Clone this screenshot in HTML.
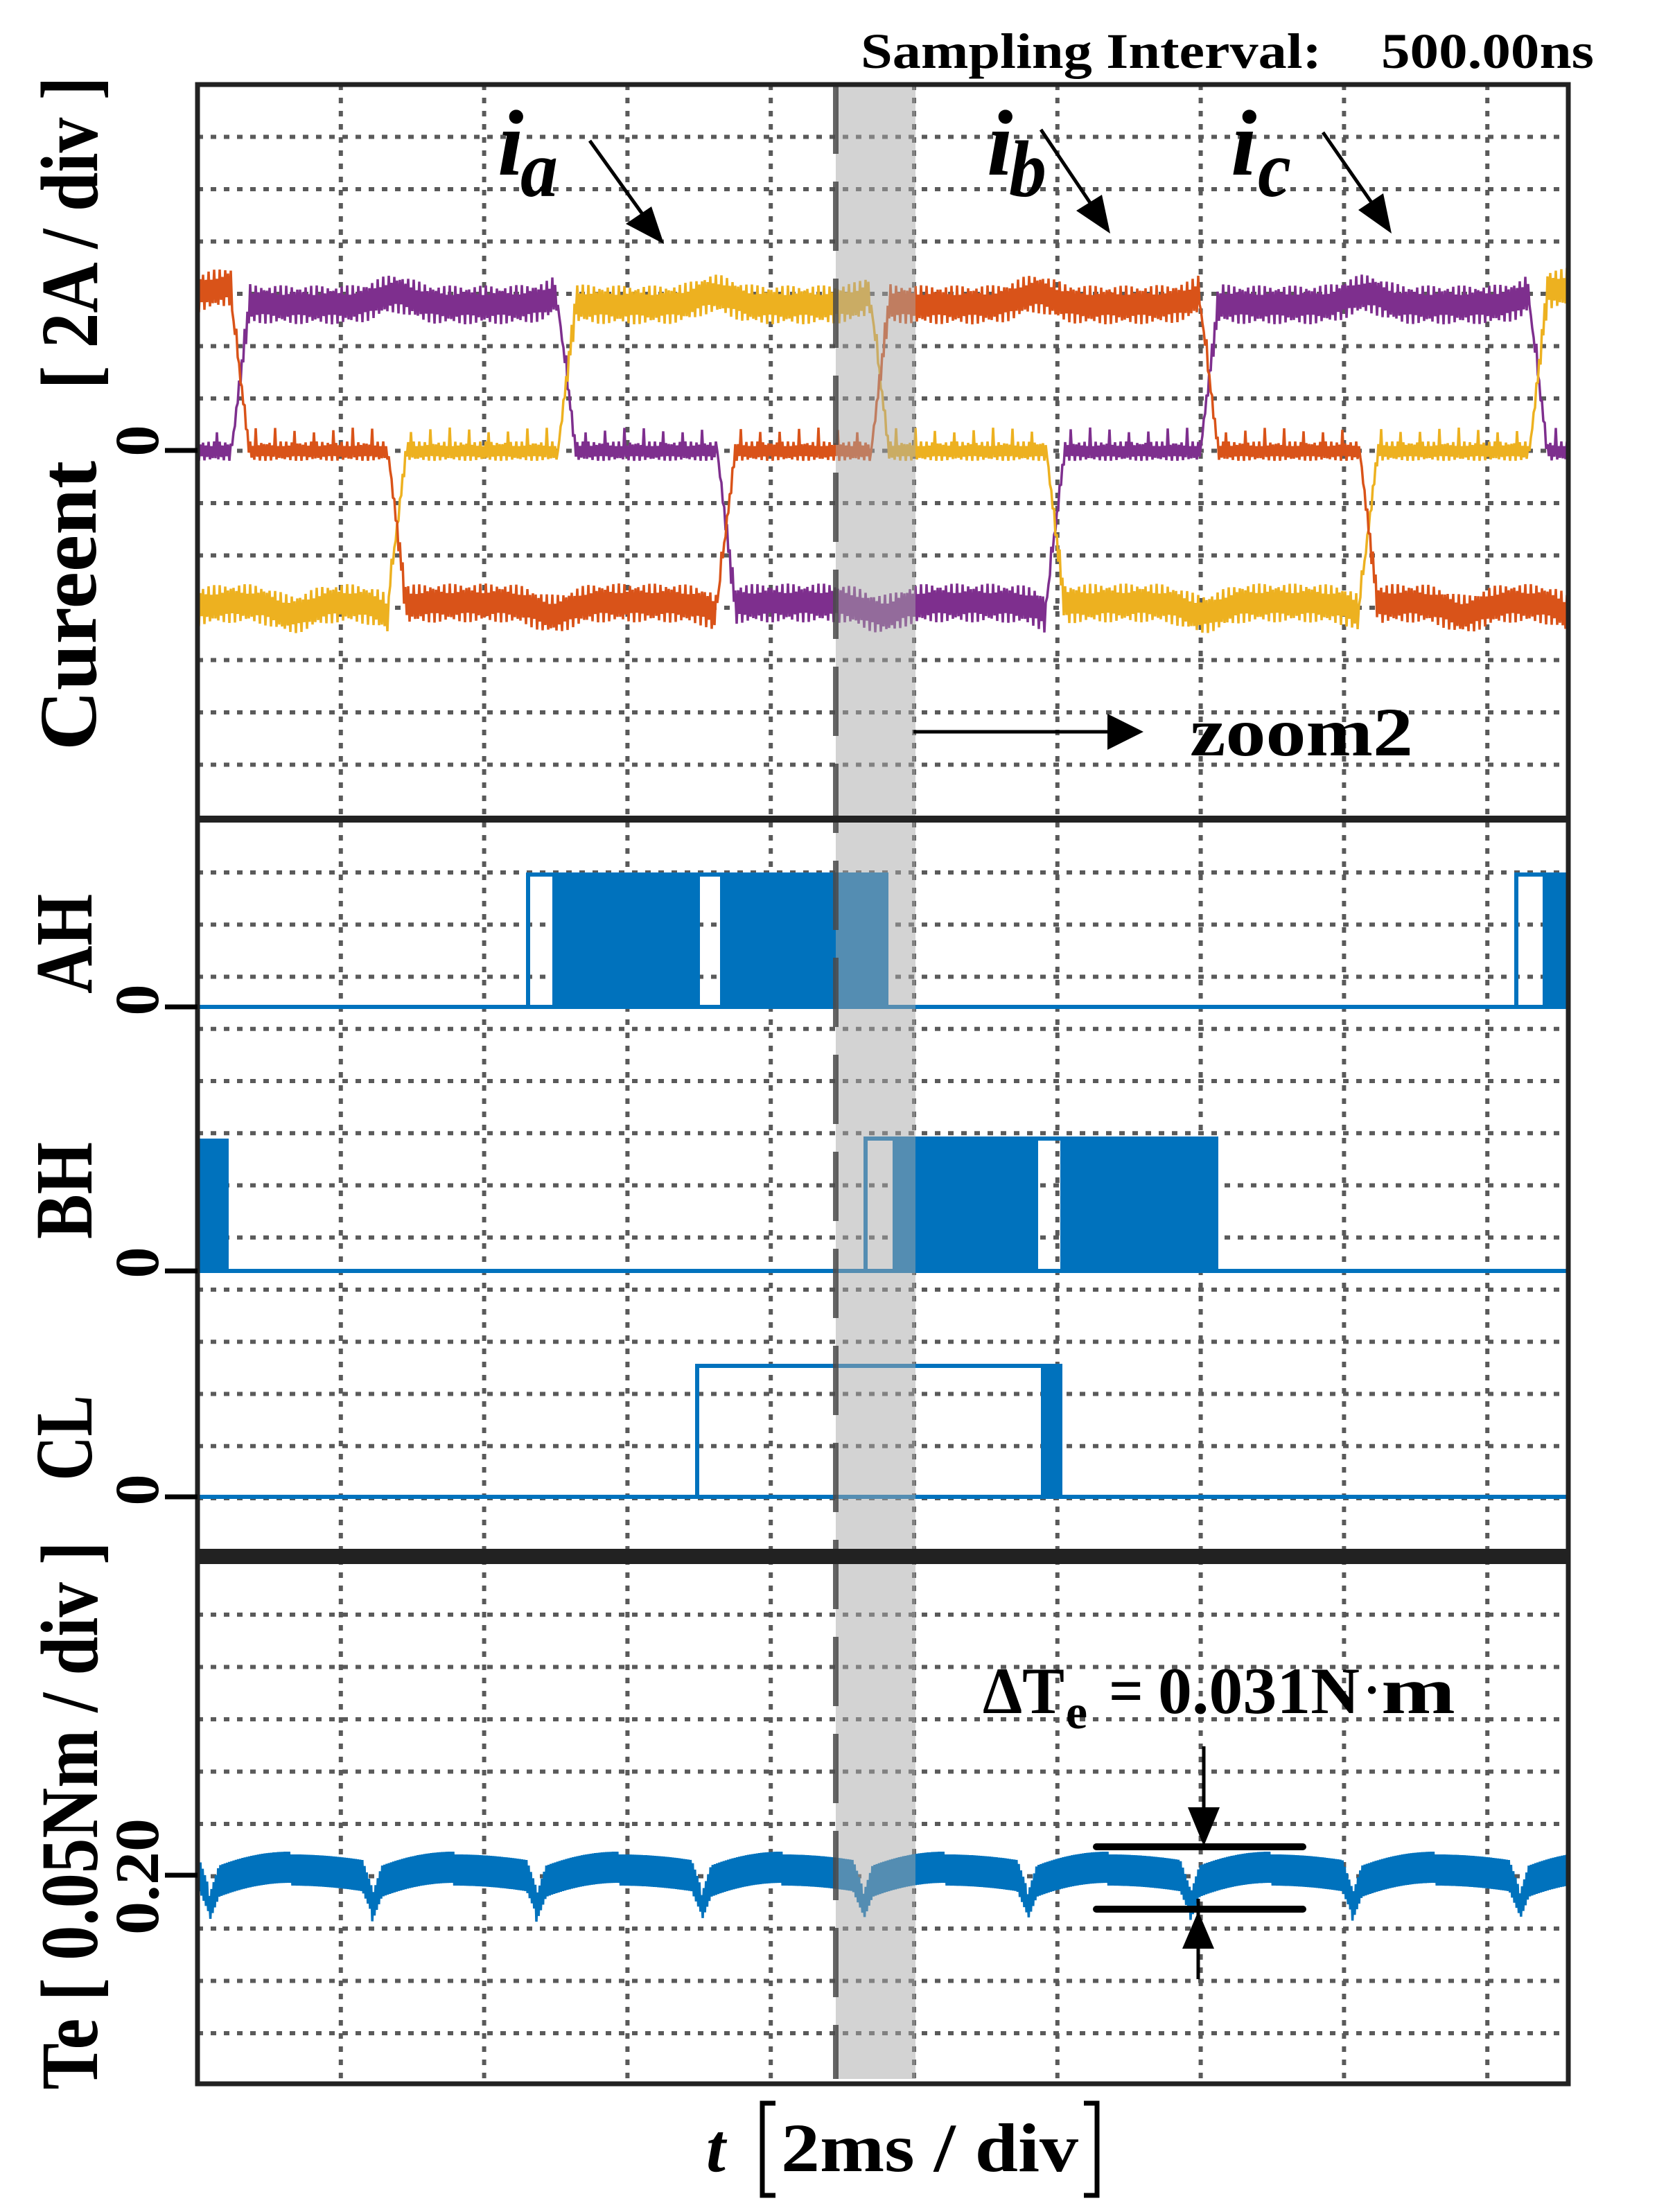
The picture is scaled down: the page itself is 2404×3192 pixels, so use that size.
<!DOCTYPE html>
<html><head><meta charset="utf-8"><style>
html,body{margin:0;padding:0;background:#fff;}
svg{display:block;}
text{font-family:"Liberation Serif",serif;font-weight:bold;fill:#000;}
</style></head><body>
<svg id="s" width="2404" height="3192" viewBox="0 0 2404 3192" xmlns="http://www.w3.org/2000/svg">
<rect width="2404" height="3192" fill="#fff"/>
<g id="grid" stroke="#5a5a5a" stroke-width="6" stroke-dasharray="8 11"></g>
<g id="sig"></g>
<g fill="#0072bd" stroke="#0072bd" stroke-width="6">
  <line x1="285" y1="1453" x2="2263" y2="1453"/>
  <polyline fill="none" points="762,1453 762,1262 1282,1262"/>
  <line x1="1007" y1="1262" x2="1007" y2="1453"/>
  <line x1="1042" y1="1262" x2="1042" y2="1453"/>
  <rect x="797" y="1262" width="210" height="191" stroke="none"/>
  <rect x="1042" y="1262" width="240" height="191" stroke="none"/>
  <polyline fill="none" points="2188,1453 2188,1262 2263,1262"/>
  <rect x="2226" y="1262" width="37" height="191" stroke="none"/>

  <line x1="285" y1="1834" x2="2263" y2="1834"/>
  <rect x="285" y="1643" width="45" height="191" stroke="none"/>
  <polyline fill="none" points="1249,1834 1249,1643 1758,1643"/>
  <line x1="1495" y1="1643" x2="1495" y2="1834"/>
  <line x1="1533" y1="1643" x2="1533" y2="1834"/>
  <rect x="1288" y="1643" width="207" height="191" stroke="none"/>
  <rect x="1533" y="1643" width="225" height="191" stroke="none"/>

  <line x1="285" y1="2160" x2="2263" y2="2160"/>
  <polyline fill="none" points="1006,2160 1006,1971 1533,1971"/>
  <rect x="1502" y="1971" width="31" height="189" stroke="none"/>
</g>
<rect x="1206" y="122" width="115" height="2878" fill="#a8a8a8" opacity="0.5"/>
<line x1="1206" y1="122" x2="1206" y2="3000" stroke="#4a4a4a" stroke-width="8" stroke-dasharray="100 40" opacity="0.85"/>
<rect x="285" y="122" width="1978" height="2885" fill="none" stroke="#222" stroke-width="7"/>
<line x1="285" y1="1182" x2="2263" y2="1182" stroke="#222" stroke-width="10"/>
<line x1="285" y1="2246" x2="2263" y2="2246" stroke="#222" stroke-width="22"/>
<g stroke="#000" stroke-width="7">
<line x1="238" y1="650" x2="285" y2="650"/>
<line x1="238" y1="1453" x2="285" y2="1453"/>
<line x1="238" y1="1834" x2="285" y2="1834"/>
<line x1="238" y1="2160" x2="285" y2="2160"/>
<line x1="238" y1="2706" x2="285" y2="2706"/>
</g>
<text x="1242" y="98" font-size="72" textLength="665" lengthAdjust="spacingAndGlyphs">Sampling Interval:</text>
<text x="1993" y="98" font-size="72" textLength="307" lengthAdjust="spacingAndGlyphs">500.00ns</text>
<g font-size="118">
<text transform="translate(138,874) rotate(-90)" text-anchor="middle" textLength="418" lengthAdjust="spacingAndGlyphs">Cureent</text>
<text transform="translate(140,336) rotate(-90)" text-anchor="middle" textLength="451" lengthAdjust="spacingAndGlyphs">[ 2A / div ]</text>
<text transform="translate(132,1362) rotate(-90)" text-anchor="middle" textLength="144" lengthAdjust="spacingAndGlyphs">AH</text>
<text transform="translate(132,1718) rotate(-90)" text-anchor="middle" textLength="140" lengthAdjust="spacingAndGlyphs">BH</text>
<text transform="translate(132,2075) rotate(-90)" text-anchor="middle" textLength="123" lengthAdjust="spacingAndGlyphs">CL</text>
<text transform="translate(140,2620) rotate(-90)" text-anchor="middle" textLength="791" lengthAdjust="spacingAndGlyphs">Te [ 0.05Nm / div ]</text>
</g>
<g font-size="90">
<text transform="translate(228,636) rotate(-90)" text-anchor="middle">0</text>
<text transform="translate(228,1443) rotate(-90)" text-anchor="middle">0</text>
<text transform="translate(228,1822) rotate(-90)" text-anchor="middle">0</text>
<text transform="translate(228,2150) rotate(-90)" text-anchor="middle">0</text>
<text transform="translate(228,2708) rotate(-90)" text-anchor="middle" textLength="168" lengthAdjust="spacingAndGlyphs">0.20</text>
</g>
<g font-style="italic">
<text x="718" y="252" font-size="135">i</text><text x="751" y="283" font-size="115" textLength="54" lengthAdjust="spacingAndGlyphs">a</text>
<text x="1424" y="252" font-size="135">i</text><text x="1456" y="283" font-size="115" textLength="54" lengthAdjust="spacingAndGlyphs">b</text>
<text x="1776" y="252" font-size="135">i</text><text x="1815" y="283" font-size="115" textLength="48" lengthAdjust="spacingAndGlyphs">c</text>
</g>
<g stroke="#000" stroke-width="5">
<line x1="851" y1="203" x2="935" y2="320"/>
<line x1="1502" y1="187" x2="1582" y2="306"/>
<line x1="1909" y1="191" x2="1990" y2="308"/>
<line x1="1318" y1="1056" x2="1610" y2="1056"/>
<line x1="1737" y1="2520" x2="1737" y2="2620"/>
<line x1="1729" y1="2740" x2="1729" y2="2856"/>
</g>
<g fill="#000">
<polygon points="958,352 903,323 940,298"/>
<polygon points="1602,337 1553,304 1590,281"/>
<polygon points="2008,337 1960,303 1996,279"/>
<polygon points="1650,1056 1598,1030 1598,1082"/>
<polygon points="1737,2664 1714,2608 1760,2608"/>
<polygon points="1729,2758 1706,2812 1752,2812"/>
</g>
<g stroke="#000" stroke-width="10" stroke-linecap="round">
<line x1="1582" y1="2665" x2="1880" y2="2665"/>
<line x1="1582" y1="2755" x2="1880" y2="2755"/>
</g>
<text x="1717" y="1090" font-size="100" textLength="322" lengthAdjust="spacingAndGlyphs">zoom2</text>
<g font-size="95">
<text x="1418" y="2472" textLength="118" lengthAdjust="spacingAndGlyphs">ΔT</text>
<text x="1538" y="2494" font-size="70">e</text>
<text x="1600" y="2472" textLength="50" lengthAdjust="spacingAndGlyphs">=</text>
<text x="1671" y="2472" textLength="291" lengthAdjust="spacingAndGlyphs">0.031N</text>
<text x="1968" y="2462" font-size="70">·</text>
<text x="1993" y="2472" textLength="107" lengthAdjust="spacingAndGlyphs">m</text>
</g>
<text x="1019" y="3133" font-size="100" font-style="italic">t</text>
<text x="1127" y="3133" font-size="100" textLength="429" lengthAdjust="spacingAndGlyphs">2ms / div</text>
<g stroke="#000" stroke-width="7" fill="none">
<polyline points="1119,3035 1100,3035 1100,3168 1119,3168"/>
<polyline points="1564,3035 1583,3035 1583,3168 1564,3168"/>
</g>
</svg>
<script>
(function(){
var NS="http://www.w3.org/2000/svg";
var g=document.getElementById('grid');
function ln(p,x1,y1,x2,y2){var l=document.createElementNS(NS,'line');l.setAttribute('x1',x1);l.setAttribute('y1',y1);l.setAttribute('x2',x2);l.setAttribute('y2',y2);p.appendChild(l);}
for(var i=1;i<=9;i++){var x=285+206.8*i;ln(g,x,122,x,3007);}
for(var k=1;k<=13;k++){var y=122+75.5*k;ln(g,285,y,2263,y);}
for(var k=0;k<13;k++){var y=1259+75.25*k;ln(g,285,y,2263,y);}
for(var k=0;k<9;k++){var y=2330+75.5*k;ln(g,285,y,2263,y);}
var sig=document.getElementById('sig');
function path(d,c,w){var p=document.createElementNS(NS,'path');p.setAttribute('d',d);p.setAttribute('fill','none');p.setAttribute('stroke',c);p.setAttribute('stroke-width',w);p.setAttribute('stroke-linejoin','bevel');sig.appendChild(p);}
var H=440,Z=651,L=870;
var pts=[285,334,560,805,1035,1257,1510,1732,1962,2207,2263];
var phases=[
 ['#7e2f8e',['Z','H','H','Z','L','L','Z','H','H','Z']],
 ['#edb120',['L','L','Z','H','H','Z','L','L','Z','H']],
 ['#d95319',['H','Z','L','L','Z','H','H','Z','L','L']]
];
var lv={H:H,Z:Z,L:L};
phases.forEach(function(ph,pi){
 var c=ph[0],s=ph[1],d='';var n=0;
 for(var x=285;x<=2263;x+=2){
  var idx=0;while(idx<9&&x>=pts[idx+1])idx++;
  var st=s[idx],base=lv[st];
  var rs=idx;while(rs>0&&s[rs-1]===st)rs--;var re=idx;while(re<9&&s[re+1]===st)re++;
  var ra=pts[rs],rb=pts[re+1];
  var amp=st==='Z'?14:28;
  if(st!=='Z'){var mid=(ra+rb)/2;var sg=st==='H'?-1:1;
   base+=sg*(16*Math.exp(-Math.pow((x-mid)/35,2))+18*Math.exp(-(rb-x)/18)+6*Math.exp(-(x-ra)/25));}
  if(rs>0&&x<ra+26){var prev=lv[s[rs-1]];var t=(x-ra)/26;base=prev+(base-prev)*Math.min(1,Math.max(0,t));amp=amp*t;}
  var y=base+((n%2)?amp:-amp)*(0.75+0.25*Math.sin(n*1.7));
  if(st==='Z'&&n%14===0)y-=20;
  d+=(n?'L':'M')+x.toFixed(1)+' '+y.toFixed(1);n++;
 }
 path(d,c,3.5);
});
var dips=[67,302,537,774,1012,1245,1482,1717,1951,2192,2427];
var d='',n=0;
for(var x=286;x<=2261;x+=1.6){
 var j=0;while(j<dips.length-1&&x>=dips[j+1])j++;
 var d0=dips[j],P=dips[j+1]-d0,u=(x-d0)/P;
 var top=2672+26*Math.pow(2*u-1,2)*(u<0.5?1:0.4)+(u<0.5?0:4);
 var bot=top+45;
 var nd=Math.min(Math.abs(x-d0),Math.abs(x-dips[j+1]));
 var dip=Math.max(0,1-nd/14);
 top+=38*dip;bot+=30*dip;
 var y=(n%2)?bot:top;
 d+=(n?'L':'M')+x.toFixed(1)+' '+y.toFixed(1);n++;
}
path(d,'#0072bd',3.5);
})();
</script>
</body></html>
